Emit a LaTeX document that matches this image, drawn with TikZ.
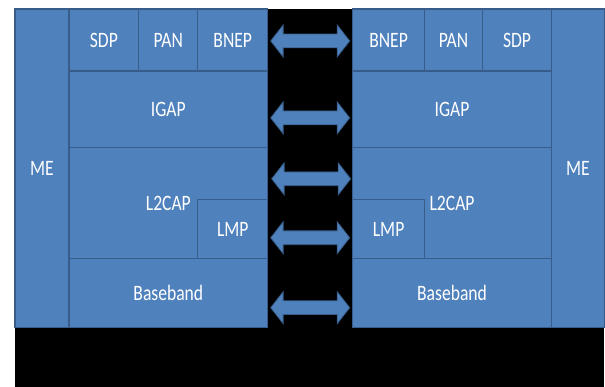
\documentclass[tikz,border=0pt]{standalone}
\usepackage{fontspec}
\setmainfont{Carlito}[FakeStretch=0.8]
\usepackage{xcolor}
\usetikzlibrary{shapes.arrows, calc}
\definecolor{StackBlue}{HTML}{4F81BD}
\definecolor{StackEdge}{HTML}{385D8A}

\begin{document}
\begin{tikzpicture}[
  x=1pt, y=-1pt,
  font=\fontsize{22}{24}\selectfont,
  layer/.style={draw=StackEdge, fill=StackBlue, text=white, rectangle,
                line width=1.2pt, inner sep=0pt, outer sep=0pt, anchor=north west},
  dblarr/.style={double arrow, draw=StackEdge, fill=StackBlue, line width=0.8pt,
                 minimum height=79pt, minimum width=31pt,
                 inner xsep=0pt, inner ysep=6.5pt,
                 double arrow head extend=9pt, double arrow tip angle=104},
]
% background
\fill[white] (0,0) rectangle (605,387);
\fill[black] (15,9) rectangle (605,387);

% left stack
\node[layer, minimum width=54pt,  minimum height=319pt] (meL)    at (15,9)    {ME};
\node[layer, minimum width=70pt,  minimum height=62pt]  (sdpL)   at (69,9)    {SDP};
\node[layer, minimum width=59pt,  minimum height=62pt]  (panL)   at (139,9)   {PAN};
\node[layer, minimum width=70pt,  minimum height=62pt]  (bnepL)  at (198,9)   {BNEP};
\node[layer, minimum width=199pt, minimum height=77pt]  (igapL)  at (69,71)   {IGAP};
\node[layer, minimum width=199pt, minimum height=111pt] (l2capL) at (69,148)  {L2CAP};
\node[layer, minimum width=70pt,  minimum height=59pt]  (lmpL)   at (198,200) {LMP};
\node[layer, minimum width=199pt, minimum height=69pt]  (bbL)    at (69,259)  {Baseband};

% right stack
\node[layer, minimum width=72pt,  minimum height=62pt]  (bnepR)  at (353,9)   {BNEP};
\node[layer, minimum width=58pt,  minimum height=62pt]  (panR)   at (425,9)   {PAN};
\node[layer, minimum width=69pt,  minimum height=62pt]  (sdpR)   at (483,9)   {SDP};
\node[layer, minimum width=199pt, minimum height=77pt]  (igapR)  at (353,71)  {IGAP};
\node[layer, minimum width=199pt, minimum height=111pt] (l2capR) at (353,148) {L2CAP};
\node[layer, minimum width=72pt,  minimum height=59pt]  (lmpR)   at (353,200) {LMP};
\node[layer, minimum width=199pt, minimum height=69pt]  (bbR)    at (353,259) {Baseband};
\node[layer, minimum width=53pt,  minimum height=319pt] (meR)    at (552,9)   {ME};

% peer arrows
\node[dblarr] (arBnep)  at ($(bnepL.east)!0.5!(bnepR.west)+(0,1)$)   {};
\node[dblarr] (arIgap)  at ($(igapL.east)!0.5!(igapR.west)+(0,8.5)$) {};
\node[dblarr] (arL2cap) at (311.5,179) {};
\node[dblarr] (arLmp)   at ($(lmpL.east)!0.5!(lmpR.west)+(0,8.5)$)   {};
\node[dblarr] (arBb)    at ($(bbL.east)!0.5!(bbR.west)+(0,14.5)$)    {};
\end{tikzpicture}
\end{document}
